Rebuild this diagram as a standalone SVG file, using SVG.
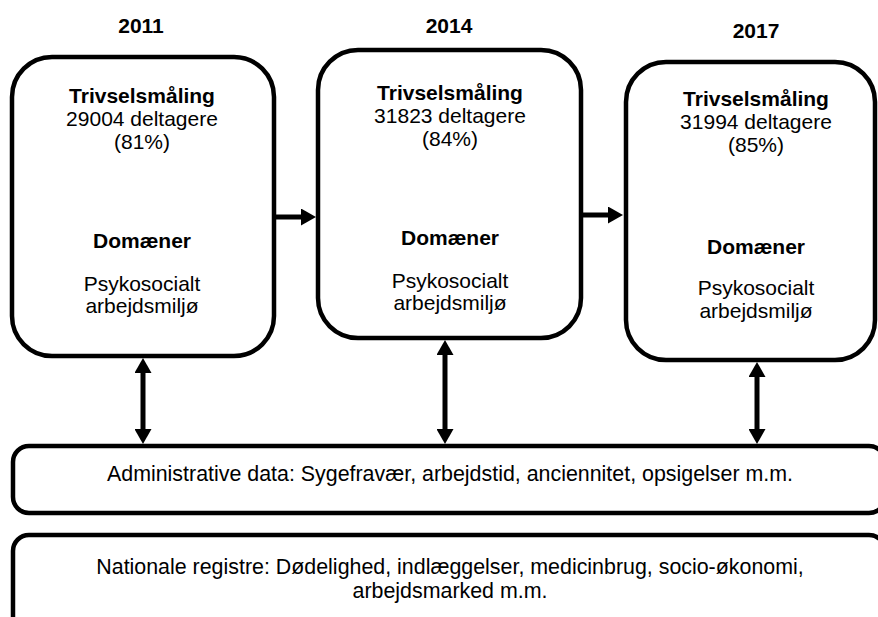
<svg xmlns="http://www.w3.org/2000/svg" width="878" height="617" viewBox="0 0 878 617">
<style>
.box{fill:#fff;stroke:#000;stroke-width:4.5}
.t{font-family:"Liberation Sans",Arial,sans-serif;fill:#000;text-anchor:middle}
.big{font-size:21px}
.b{font-weight:bold}
.small{font-size:21.4px}
.year{font-size:21px;font-weight:bold}
.con{stroke:#000;stroke-width:5;fill:none;marker-end:url(#ah)}
.dbl{marker-start:url(#ah)}
</style>
<defs>
<marker id="ah" viewBox="0 0 15 17" refX="5" refY="8.5" markerWidth="15" markerHeight="17" markerUnits="userSpaceOnUse" orient="auto-start-reverse">
<path d="M0,0 L15,8.5 L0,17 z" fill="#000"/>
</marker>
</defs>
<rect width="878" height="617" fill="#fff"/>
<g id="years">
<text class="t year" x="141" y="33">2011</text>
<text class="t year" x="449" y="33">2014</text>
<text class="t year" x="756" y="38">2017</text>
</g>
<g id="box2011">
<rect class="box" x="12" y="57" width="262" height="299" rx="40"/>
<text class="t big b" x="142" y="103">Trivselsmåling</text>
<text class="t big" x="142" y="126">29004 deltagere</text>
<text class="t big" x="142" y="149">(81%)</text>
<text class="t big b" x="142" y="248">Domæner</text>
<text class="t big" x="142" y="291">Psykosocialt</text>
<text class="t big" x="142" y="313">arbejdsmiljø</text>
</g>
<g id="box2014">
<rect class="box" x="318" y="50" width="263" height="288" rx="40"/>
<text class="t big b" x="450" y="100">Trivselsmåling</text>
<text class="t big" x="450" y="123">31823 deltagere</text>
<text class="t big" x="450" y="146">(84%)</text>
<text class="t big b" x="450" y="245">Domæner</text>
<text class="t big" x="450" y="288">Psykosocialt</text>
<text class="t big" x="450" y="310">arbejdsmiljø</text>
</g>
<g id="box2017">
<rect class="box" x="626" y="62" width="249" height="298" rx="40"/>
<text class="t big b" x="756" y="106">Trivselsmåling</text>
<text class="t big" x="756" y="129">31994 deltagere</text>
<text class="t big" x="756" y="152">(85%)</text>
<text class="t big b" x="756" y="254">Domæner</text>
<text class="t big" x="756" y="295">Psykosocialt</text>
<text class="t big" x="756" y="318">arbejdsmiljø</text>
</g>
<g id="admin">
<rect class="box" x="13" y="446" width="872" height="67" rx="16"/>
<text class="t small" x="450" y="481">Administrative data: Sygefravær, arbejdstid, anciennitet, opsigelser m.m.</text>
</g>
<g id="registre">
<rect class="box" x="13" y="535" width="872" height="110" rx="16"/>
<text class="t small" x="450" y="574">Nationale registre: Dødelighed, indlæggelser, medicinbrug, socio-økonomi,</text>
<text class="t small" x="450" y="598">arbejdsmarked m.m.</text>
</g>
<g id="connectors">
<line class="con" x1="276" y1="217" x2="306" y2="217"/>
<line class="con" x1="583" y1="215" x2="613" y2="215"/>
<line class="con dbl" x1="143" y1="368" x2="143" y2="434"/>
<line class="con dbl" x1="445" y1="350" x2="445" y2="434"/>
<line class="con dbl" x1="757" y1="372" x2="757" y2="434"/>
</g>
</svg>
